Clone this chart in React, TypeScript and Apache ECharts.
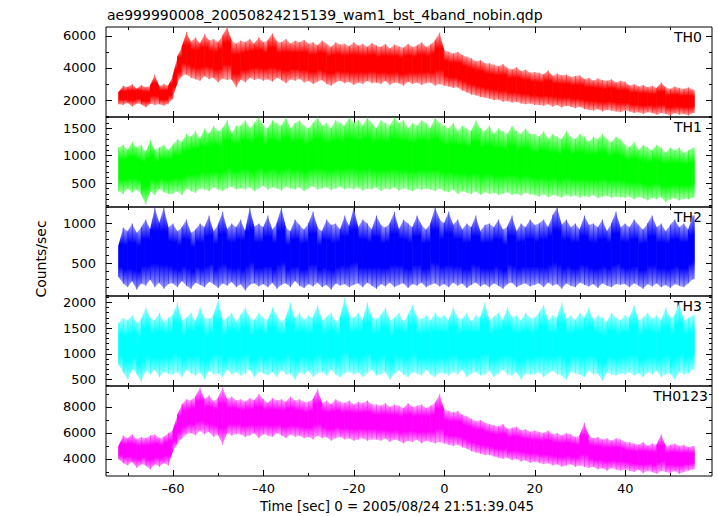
import React, { useEffect, useRef } from "react";
import * as echarts from "echarts";

// Time bins (1 s wide) start at -72 s; each bin holds the upper and lower excursion
const BIN_START = -72;
const BIN_WIDTH = 1;

const X_MIN = -74.83;
const X_MAX = 59.2;
const xMajorTicks = [-60, -40, -20, 0, 20, 40];
const xMinorTicks = [-70, -50, -30, -10, 10, 30, 50];

const th0Hi = [
  2500, 2900, 2800, 3000, 2700, 2950, 2800, 2900, 3600, 2850, 3000, 2900,
  3500, 4700, 5300, 6250,
  5600, 5900, 5500, 6100, 5700, 5800, 5600, 6000, 6560, 5700, 5500,
  5700, 5600, 5800, 5500, 5900, 5600, 5700, 6150, 5650, 5600, 5800, 5500, 5700, 5600, 5750,
  5500, 5600, 5400, 5700, 5500, 5300, 5600, 5450, 5500, 5350, 5600, 5400, 5500, 5300, 5550,
  5400, 5300, 5500, 5200, 5450, 5350, 5250, 5500, 5300, 5400, 5600, 5300, 5450, 5700, 6200,
  5100, 5000, 4900, 5000, 4800, 4700, 4600, 4400, 4500, 4300,
  4300, 4200, 4100, 4250, 4000, 3900, 4050, 3800, 3900, 3700, 3750,
  3700, 3600, 3850, 3500, 3650, 3550, 3600, 3450, 3500, 3550,
  3300, 3400, 3200, 3350, 3250, 3200, 3300, 3100, 3200, 3150,
  2900, 3000, 2850, 2950, 2800, 2900, 2750, 3100, 2800, 2700, 2850, 2750, 2700, 2800, 2650,
];
const th0Lo = [
  1750, 1700, 1850, 1600, 1800, 1750, 1550, 1800, 1700, 1750, 1650, 1800,
  2100, 3100, 3500, 3600,
  3400, 3300, 3200, 3500, 3300, 3400, 3100, 3350, 3250, 3300, 2800,
  3300, 3100, 3400, 3250, 3350, 3200, 3300, 3150, 3400, 3250, 3050, 3300, 3200, 3350, 3100,
  3200, 3000, 3150, 3250, 3000, 2900, 3100, 3200, 3050, 3150, 2950, 3100, 3000, 3200, 3050,
  3100, 3000, 3200, 2950, 3100, 3050, 2900, 3150, 3000, 3100, 2950, 3050, 3100, 2900, 3000,
  2900, 2850, 2750, 2800, 2600, 2500, 2350, 2300, 2200, 2150,
  2100, 2000, 2050, 1900, 1950, 1850, 1900, 1800, 1750, 1800, 1700,
  1700, 1650, 1750, 1600, 1700, 1550, 1650, 1600, 1500, 1600,
  1450, 1400, 1350, 1450, 1300, 1400, 1350, 1300, 1250, 1350,
  1300, 1200, 1250, 1150, 1250, 1200, 1100, 1200, 1150, 1050, 1200, 1100, 1150, 1050, 1200,
];

const th1Hi = [
  1150, 1200, 1100, 1250, 1150, 1200, 1050, 1290, 1100, 1150, 1200, 1100,
  1200, 1300, 1250, 1400, 1350, 1450, 1300, 1500, 1400, 1550, 1450, 1500, 1650, 1400, 1550,
  1550, 1650, 1500, 1600, 1700, 1550, 1500, 1650, 1600, 1550, 1700, 1500, 1600, 1650, 1550, 1500, 1600, 1700, 1550, 1600, 1500, 1650, 1600, 1550, 1700,
  1600, 1650, 1550, 1700, 1600, 1500, 1650, 1600, 1550, 1700, 1600, 1650, 1500, 1600, 1550, 1650, 1600, 1500, 1700, 1600,
  1550, 1500, 1600, 1450, 1550, 1500, 1450, 1650, 1500, 1450, 1550, 1400, 1500, 1450, 1400, 1550, 1450, 1400, 1500, 1400,
  1400, 1350, 1450, 1300, 1400, 1350, 1300, 1450, 1350, 1300, 1400, 1350, 1250, 1350, 1300, 1400, 1300, 1250, 1350, 1300,
  1200, 1150, 1250, 1100, 1200, 1150, 1100, 1200, 1150, 1050, 1150, 1100, 1150, 1050, 1100, 1150,
];
const th1Lo = [
  350, 300, 400, 320, 380, 300, 100, 350, 280, 400, 330, 300,
  300, 350, 280, 400, 350, 320, 400, 380, 350, 420, 380, 350, 400, 430, 380,
  400, 380, 420, 350, 400, 450, 380, 420, 400, 360, 430, 400, 380, 420, 350, 400, 440, 380, 400, 420, 370, 400, 430, 380, 410,
  380, 420, 360, 400, 380, 420, 350, 400, 380, 420, 360, 400, 380, 350, 400, 370, 400, 380, 350, 400,
  350, 330, 380, 300, 350, 320, 300, 350, 280, 330, 300, 320, 280, 300, 330, 280, 300, 270, 320, 290,
  280, 250, 300, 240, 280, 260, 230, 280, 250, 270, 230, 260, 240, 280, 220, 250, 260, 230, 250, 240,
  230, 250, 200, 240, 220, 180, 230, 200, 240, 150, 200, 220, 180, 210, 200, 230,
];

const th2Hi = [
  720, 950, 900, 1000, 880, 950, 1050, 920, 1207, 1000, 1207, 950,
  1000, 900, 950, 1050, 880, 920, 1000, 950, 1100, 900, 980, 1150, 920, 1000, 950, 1050, 900, 1207, 960, 1000,
  950, 1100, 920, 1000, 1207, 950, 900, 1050, 980, 920, 1000, 1150, 950, 900, 1050, 980, 1000, 920, 1100, 960,
  1207, 950, 1050, 1000, 920, 1100, 980, 950, 1000, 1150, 920, 1050, 1000, 950, 1100, 980, 920, 1000, 1207, 1050,
  1000, 1150, 980, 1050, 920, 1000, 950, 1100, 900, 980, 1000, 950, 1050, 920, 960, 1100, 900, 1000, 950, 1050,
  980, 1000, 1050, 950, 1100, 1207, 980, 1050, 950, 1000, 920, 1100, 980, 1000, 950, 1050, 900, 1000, 1150, 950,
  1000, 950, 1050, 980, 920, 1000, 1100, 950, 1000, 900, 980, 1050, 950, 1000, 920, 1100,
];
const th2Lo = [
  330, 250, 200, 280, 170, 250, 220, 300, 200, 260, 180, 240,
  250, 200, 280, 220, 180, 260, 230, 200, 270, 240, 190, 250, 220, 270, 200, 240, 160, 230, 250, 210,
  240, 200, 260, 180, 230, 250, 200, 280, 220, 190, 240, 210, 260, 200, 230, 170, 250, 220, 240, 200,
  230, 250, 200, 260, 220, 180, 240, 210, 260, 200, 230, 250, 190, 240, 220, 260, 200, 230, 250, 210,
  240, 200, 260, 220, 250, 190, 230, 260, 210, 240, 200, 250, 220, 180, 240, 260, 200, 230, 250, 210,
  230, 250, 200, 260, 220, 240, 180, 250, 220, 200, 260, 230, 210, 240, 190, 250, 220, 200, 240, 230,
  240, 200, 250, 220, 180, 240, 210, 250, 200, 230, 190, 240, 220, 200, 250, 300,
];

const th3Hi = [
  1600, 1700, 1650, 1750, 1600, 1680, 1900, 1700, 1650, 1800, 1620, 1700,
  1750, 2000, 1650, 1700, 1800, 1620, 1900, 1700, 1680, 1750, 2050, 1650, 1700, 1800, 1620, 1750, 1900, 1700, 1650, 1800,
  1700, 1650, 1900, 1750, 1620, 1700, 2000, 1680, 1800, 1650, 1750, 1700, 1950, 1650, 1720, 1800, 1620, 1700, 2100, 1750,
  1700, 1800, 1650, 2000, 1720, 1680, 1750, 1900, 1650, 1700, 1800, 1620, 1750, 1950, 1700, 1680, 1750, 1650, 1800, 1700,
  1750, 1650, 1900, 1700, 1680, 1800, 1620, 1750, 1700, 2000, 1650, 1720, 1800, 1650, 1900, 1700, 1750, 1650, 1800, 1700,
  1700, 1800, 1950, 1650, 1750, 1700, 2000, 1680, 1750, 1650, 1800, 1700, 1900, 1650, 1750, 1700, 1620, 1800, 1700, 1650,
  1750, 1700, 1950, 1650, 1700, 1800, 1680, 1750, 1650, 1900, 1700, 1750, 2000, 1650, 1700, 1750,
];
const th3Lo = [
  800, 650, 500, 700, 620, 450, 680, 600, 700, 550, 650, 620,
  600, 650, 550, 700, 620, 580, 650, 500, 680, 600, 620, 550, 700, 600, 650, 580, 620, 700, 550, 650,
  620, 580, 650, 550, 700, 600, 620, 500, 650, 600, 680, 550, 620, 650, 580, 700, 600, 550, 620, 650,
  600, 650, 550, 620, 700, 580, 600, 650, 500, 620, 680, 600, 550, 650, 620, 580, 700, 600, 550, 640,
  620, 580, 650, 600, 700, 550, 620, 650, 580, 600, 680, 550, 620, 700, 600, 580, 650, 500, 620, 600,
  600, 650, 550, 620, 680, 600, 580, 500, 650, 620, 600, 550, 680, 600, 620, 480, 650, 600, 580, 620,
  600, 650, 580, 620, 550, 650, 600, 680, 550, 600, 620, 500, 650, 600, 620, 700,
];

const th0123Hi = [
  5000, 5800, 5600, 5900, 5500, 5700, 5600, 5800, 5900, 5600, 5700, 6000,
  6200, 7400, 8200, 8600,
  8500, 8800, 9500, 8600, 8900, 8400, 8700, 9500, 8600, 8800, 8500,
  8600, 8400, 8700, 8500, 9000, 8600, 8300, 8700, 8500, 8600, 8400, 8800, 8500, 8600, 8400,
  8400, 8600, 9400, 8300, 8500, 8200, 8600, 8400, 8300, 8500, 8200, 8400, 8300, 8500, 8200,
  8200, 8100, 8300, 8000, 8200, 8100, 7900, 8300, 8000, 8100, 8200, 7900, 8100, 8300, 9000,
  7800, 7700, 7600, 7700, 7400, 7300, 7100, 6900, 7000, 6800,
  6700, 6600, 6500, 6700, 6300, 6400, 6500, 6200, 6300, 6100, 6200,
  6100, 6000, 6200, 5900, 6000, 5800, 6000, 5900, 5700, 5800,
  6800, 5800, 5600, 5700, 5500, 5600, 5400, 5600, 5500, 5300,
  5300, 5200, 5100, 5300, 5000, 5200, 5100, 5900, 5000, 5100, 5200, 5000, 5100, 4900, 5000,
];
const th0123Lo = [
  4000, 3700, 3500, 3800, 3300, 3600, 3500, 3200, 3600, 3400, 3700, 3500,
  4600, 5200, 5600, 5900,
  6000, 5800, 6200, 5900, 6100, 5700, 5900, 5100, 6000, 5800, 5900,
  5900, 5700, 5800, 6000, 5600, 5900, 5800, 5700, 6000, 5800, 5600, 5900, 5700, 5800, 5600,
  5700, 5500, 5800, 5600, 5700, 5400, 5600, 5700, 5500, 5600, 5400, 5500, 5600, 5400, 5500,
  5500, 5400, 5600, 5300, 5500, 5400, 5200, 5400, 5300, 5500, 5200, 5400, 5300, 5200, 5300,
  5200, 5100, 5000, 5100, 4900, 4800, 4600, 4500, 4400, 4300,
  4300, 4200, 4100, 4000, 4100, 3900, 4000, 3800, 3900, 3700, 3800,
  3700, 3600, 3700, 3500, 3600, 3400, 3500, 3600, 3400, 3500,
  3400, 3300, 3400, 3200, 3300, 3100, 3300, 3200, 3100, 3200,
  3100, 3000, 3200, 2900, 3100, 3000, 2850, 3100, 3000, 2900, 3100, 2850, 3000, 3100, 3200,
];

const panelNames = ["TH0", "TH1", "TH2", "TH3", "TH0123"];
const panelColors = ["#ff0000", "#00ff00", "#0000ff", "#00ffff", "#ff00ff"];
const panelFringe = ["#ffb4b4", "#b4ffb4", "#a8a8ff", "#b4ffff", "#ffb4ff"];
const panelHi = [th0Hi, th1Hi, th2Hi, th3Hi, th0123Hi];
const panelLo = [th0Lo, th1Lo, th2Lo, th3Lo, th0123Lo];
const yMins = [956, 60, 90, 378, 2692];
const yMaxs = [6544, 1710, 1207, 2124, 9615];
const yLabelTicks = [
  [2000, 4000, 6000],
  [500, 1000, 1500],
  [500, 1000],
  [500, 1000, 1500, 2000],
  [4000, 6000, 8000],
];
const yMinorTicks = [
  [1000, 3000, 5000],
  [100, 200, 300, 400, 600, 700, 800, 900, 1100, 1200, 1300, 1400, 1600, 1700],
  [100, 200, 300, 400, 600, 700, 800, 900, 1100, 1200],
  [400, 600, 700, 800, 900, 1100, 1200, 1300, 1400, 1600, 1700, 1800, 1900, 2100],
  [3000, 5000, 7000, 9000],
];

const TITLE = "ae999990008_20050824215139_wam1_bst_4band_nobin.qdp";
const Y_TITLE = "Counts/sec";
const X_TITLE = "Time [sec] 0 = 2005/08/24 21:51:39.045";

const FONT = "DejaVu Sans";
const gridTops = [27, 117, 207, 296, 386];
const gridHeights = [90, 90, 89, 90, 90];
const labelRight = [702, 702, 702, 702, 708];

function buildOption() {
  const grids: any[] = [];
  const xAxes: any[] = [];
  const yAxes: any[] = [];
  const series: any[] = [];
  const graphics: any[] = [];

  panelNames.forEach((name, i) => {
    grids.push({
      left: 106,
      width: 606,
      top: gridTops[i],
      height: gridHeights[i],
      show: true,
      borderColor: "#000",
      borderWidth: 1,
      backgroundColor: "transparent",
      containLabel: false,
      outerBoundsMode: "none",
    });
    const tick = (vals: number[], len: number) => ({
      show: true,
      inside: true,
      length: len,
      customValues: vals,
      lineStyle: { color: "#000", width: 1 },
    });
    const xBase = {
      type: "value",
      gridIndex: i,
      min: X_MIN,
      max: X_MAX,
      axisLine: { show: false, onZero: false },
      splitLine: { show: false },
      axisLabel: { show: false },
    };
    xAxes.push({
      ...xBase,
      position: "bottom",
      axisTick: tick(xMajorTicks, 6),
      axisLabel:
        i === 4
          ? {
              show: true,
              customValues: xMajorTicks,
              margin: 6,
              color: "#000",
              fontSize: 13,
              fontFamily: FONT,
              formatter: (v: number) => (v < 0 ? "\u2013" + Math.abs(v) : String(v)),
            }
          : { show: false },
    });
    xAxes.push({ ...xBase, position: "bottom", axisTick: tick(xMinorTicks, 3) });
    xAxes.push({ ...xBase, position: "top", axisTick: tick(xMajorTicks, 6) });
    xAxes.push({ ...xBase, position: "top", axisTick: tick(xMinorTicks, 3) });

    const yBase = {
      type: "value",
      gridIndex: i,
      min: yMins[i],
      max: yMaxs[i],
      axisLine: { show: false, onZero: false },
      splitLine: { show: false },
      axisLabel: { show: false },
    };
    yAxes.push({
      ...yBase,
      position: "left",
      axisTick: tick(yLabelTicks[i], 6),
      axisLabel: {
        show: true,
        customValues: yLabelTicks[i],
        margin: 10,
        color: "#000",
        fontSize: 13,
        fontFamily: FONT,
        formatter: (v: number) => String(v),
      },
    });
    yAxes.push({ ...yBase, position: "left", axisTick: tick(yMinorTicks[i], 3) });
    yAxes.push({ ...yBase, position: "right", axisTick: tick(yLabelTicks[i], 6) });
    yAxes.push({ ...yBase, position: "right", axisTick: tick(yMinorTicks[i], 3) });

    const hi = panelHi[i];
    const lo = panelLo[i];
    const data: number[][] = [];
    for (let k = 0; k < hi.length; k++) {
      const t = BIN_START + k * BIN_WIDTH;
      const k2 = Math.min(k + 1, hi.length - 1);
      const tEnd = k + 1 < hi.length ? t + BIN_WIDTH : t + BIN_WIDTH * 0.4;
      data.push([t, hi[k], lo[k], tEnd, hi[k2], lo[k2]]);
    }
    const solid = panelColors[i];
    const fringe = panelFringe[i];
    series.push({
      type: "custom",
      name,
      xAxisIndex: i * 4,
      yAxisIndex: i * 4,
      data,
      silent: true,
      clip: true,
      encode: { x: [0, 3], y: [1, 2] },
      renderItem: (params: any, api: any) => {
        const t0 = api.value(0);
        const h0 = api.value(1);
        const l0 = api.value(2);
        const t1 = api.value(3);
        const h1 = api.value(4);
        const l1 = api.value(5);
        const a = api.coord([t0, h0]);
        const b = api.coord([t1, h1]);
        const c = api.coord([t1, l1]);
        const d = api.coord([t0, l0]);
        const grad = new echarts.graphic.LinearGradient(0, 0, 0, 1, [
          { offset: 0, color: fringe },
          { offset: 0.3, color: solid },
          { offset: 0.7, color: solid },
          { offset: 1, color: fringe },
        ]);
        return {
          type: "group",
          children: [
            {
              type: "polygon",
              shape: { points: [[a[0] - 0.5, a[1]], b, c, [d[0] - 0.5, d[1]]] },
              style: { fill: grad },
            },
            {
              type: "line",
              shape: { x1: a[0], y1: a[1], x2: d[0], y2: d[1] },
              style: { stroke: solid, lineWidth: 0.6, opacity: 0.8 },
            },
          ],
        };
      },
    });

    graphics.push({
      type: "text",
      x: labelRight[i],
      y: gridTops[i] + 10,
      style: {
        text: name,
        fill: "#000",
        font: `14px "${FONT}"`,
        textAlign: "right",
        textVerticalAlign: "middle",
      },
    });
  });

  graphics.push({
    type: "text",
    x: 107,
    y: 15,
    style: { text: TITLE, fill: "#000", font: `14px "${FONT}"`, textAlign: "left", textVerticalAlign: "middle" },
  });
  graphics.push({
    type: "text",
    x: 41,
    y: 259,
    rotation: Math.PI / 2,
    style: { text: Y_TITLE, fill: "#000", font: `14px "${FONT}"`, textAlign: "center", textVerticalAlign: "middle" },
  });
  graphics.push({
    type: "text",
    x: 397,
    y: 506,
    style: { text: X_TITLE, fill: "#000", font: `13.4px "${FONT}"`, textAlign: "center", textVerticalAlign: "middle" },
  });

  return {
    animation: false,
    backgroundColor: "#fff",
    grid: grids,
    xAxis: xAxes,
    yAxis: yAxes,
    series,
    graphic: graphics,
  };
}

export default function App() {
  const ref = useRef<HTMLDivElement>(null);
  useEffect(() => {
    if (!ref.current) return;
    const chart = echarts.init(ref.current, undefined, { renderer: "svg" });
    chart.setOption(buildOption() as any);
    return () => chart.dispose();
  }, []);
  return (
    <div
      ref={ref}
      style={{ position: "absolute", left: 0, top: 0, width: 717, height: 516, background: "#fff" }}
    />
  );
}
